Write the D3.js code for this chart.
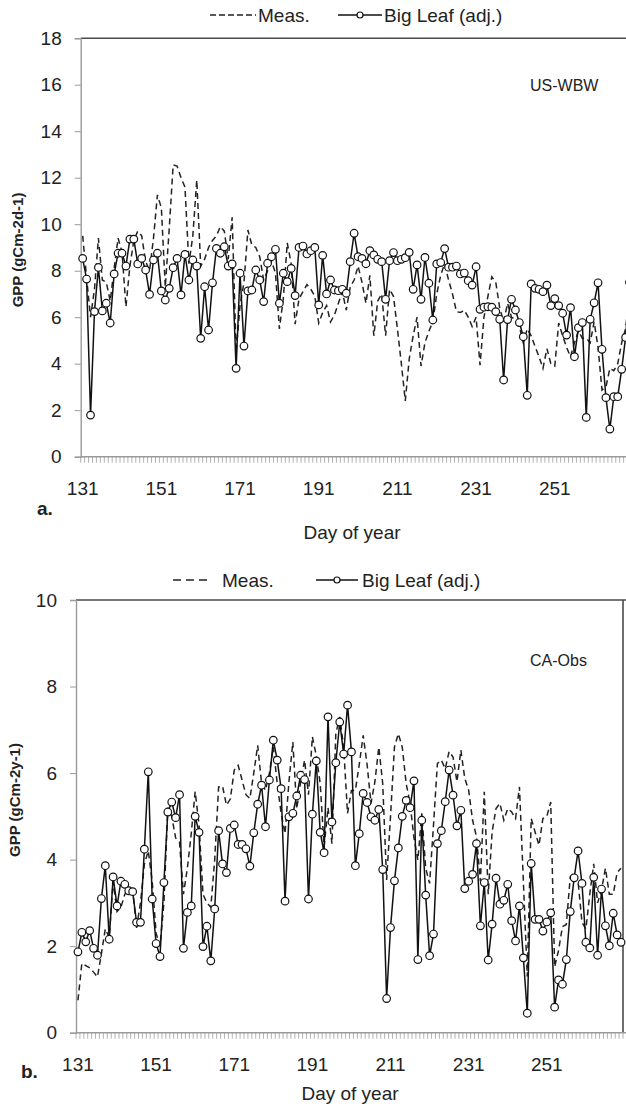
<!DOCTYPE html>
<html><head><meta charset="utf-8">
<script src="https://cdn.jsdelivr.net/npm/d3@7"></script>
<style>body{margin:0;background:#fff;} svg{display:block;font-family:"Liberation Sans",Arial,sans-serif;}</style>
</head><body><svg id="c" width="626" height="1109"></svg>
<script>
const days = d3.range(131, 271);
const xTickLabels = [131,151,171,191,211,231,251];
const wbwTicks = [0,2,4,6,8,10,12,14,16,18];
const obsTicks = [0,2,4,6,8,10];
const seriesNames = ["Meas.", "Big Leaf (adj.)"];

const wbwMeas = [
 9.5,7.7,6.0,7.2,9.4,7.6,7.5,6.7,8.1,9.4,
 8.8,6.45,8.2,9.3,9.7,9.5,8.4,8.0,9.4,11.26,
 10.7,7.3,9.8,12.55,12.5,12.0,11.6,8.3,9.5,11.9,
 8.2,8.5,9.0,9.3,9.5,9.9,9.7,8.5,10.3,4.5,
 6.5,7.5,9.75,9.1,9.0,8.6,7.6,8.0,8.4,7.9,
 5.5,6.8,9.2,8.3,5.7,6.8,7.1,7.4,7.2,6.9,
 5.75,6.2,6.5,5.8,6.1,6.6,7.1,6.3,7.3,7.6,
 8.2,7.5,6.6,7.8,5.2,6.7,7.0,5.2,7.2,6.9,
 5.5,4.0,2.4,4.2,5.2,6.0,3.9,4.9,5.4,5.8,
 7.0,7.8,8.3,7.6,7.0,6.24,6.2,6.3,6.0,5.6,
 6.0,3.94,6.0,6.9,7.74,7.5,6.4,5.8,6.6,6.0,
 5.9,5.6,4.9,5.5,5.2,4.73,4.3,3.8,4.65,4.0,
 3.9,5.75,5.2,4.7,4.3,4.9,5.4,5.1,5.1,4.9,
 5.8,4.7,2.87,3.0,3.8,3.7,4.0,4.9,5.5,7.0];
const wbwBigLeaf = [
 8.53,7.64,1.79,6.24,8.14,6.27,6.6,5.75,7.86,8.75,
 8.75,8.2,9.36,9.36,8.29,8.53,8.03,6.98,8.46,8.75,
 7.13,6.74,7.24,8.13,8.53,6.96,8.7,7.6,8.46,8.2,
 5.09,7.31,5.45,7.48,8.96,8.75,9.03,8.2,8.29,3.8,
 7.89,4.76,7.13,7.17,8.03,7.6,6.67,8.32,8.6,8.92,
 6.6,7.89,7.53,8.1,6.93,9.0,9.06,8.72,8.86,9.0,
 6.53,8.66,7.0,7.6,7.17,7.14,7.2,7.03,8.39,9.61,
 8.6,8.53,8.3,8.86,8.68,8.49,8.39,6.77,8.43,8.78,
 8.43,8.49,8.56,8.79,7.2,8.25,6.77,8.57,7.46,5.88,
 8.29,8.35,8.95,8.15,8.15,8.2,7.86,7.9,7.57,7.38,
 8.17,6.34,6.43,6.45,6.43,6.24,5.91,3.3,5.9,6.77,
 6.31,5.77,5.16,2.64,7.43,7.24,7.2,7.1,7.38,6.5,
 6.8,6.5,6.17,5.23,6.41,4.3,5.55,5.77,1.69,5.91,
 6.62,7.48,4.62,2.54,1.19,2.58,2.58,3.76,5.13,7.5];
const obsMeas = [
 0.75,1.6,1.55,1.5,1.4,1.29,1.83,2.4,2.2,3.5,
 2.8,2.9,3.2,3.3,3.3,2.42,3.0,3.9,4.2,3.5,
 2.3,2.0,3.0,5.2,5.0,4.5,4.4,3.2,3.8,4.6,
 5.57,4.8,3.2,3.0,2.9,4.0,5.68,5.7,5.26,5.4,
 6.07,6.18,5.84,5.5,5.41,6.0,6.64,5.76,5.6,6.0,
 6.6,5.76,5.07,4.6,5.8,6.72,5.17,5.8,6.3,5.5,
 6.84,6.4,5.76,4.3,5.2,4.37,6.91,7.3,6.6,5.07,
 5.6,5.6,6.2,6.87,6.2,5.3,5.8,6.6,5.76,3.53,
 5.0,6.6,6.91,6.6,5.76,5.3,4.5,3.99,5.07,3.8,
 3.45,4.8,6.22,6.3,6.1,6.5,6.37,5.8,6.53,5.88,
 5.6,4.91,4.53,3.5,5.57,3.2,4.64,5.18,5.3,4.91,
 5.18,5.1,4.95,5.68,3.5,1.3,4.95,4.64,4.33,4.95,
 5.0,5.33,1.52,1.9,2.45,2.5,3.6,3.7,3.5,2.55,
 2.4,3.2,3.9,3.0,3.3,3.8,3.2,3.2,3.7,3.8];
const obsBigLeaf = [
 1.87,2.32,2.1,2.36,1.95,1.79,3.1,3.86,2.16,3.6,
 2.93,3.5,3.43,3.28,3.26,2.55,2.55,4.24,6.03,3.09,
 2.06,1.76,3.47,5.1,5.33,4.97,5.5,1.95,2.78,2.93,
 5.0,4.63,1.99,2.46,1.66,2.86,4.67,3.9,3.7,4.72,
 4.8,4.35,4.35,4.25,3.85,4.62,5.28,5.72,4.76,5.84,
 6.76,6.3,5.64,3.04,4.99,5.07,5.47,5.95,5.85,3.09,
 5.05,6.28,4.63,4.16,7.3,4.87,6.24,7.18,6.44,7.57,
 6.49,3.86,4.6,5.53,5.32,4.99,4.91,5.16,3.77,0.79,
 2.43,3.51,4.27,5.0,5.37,5.2,5.82,1.69,4.91,3.18,
 1.78,2.28,4.37,4.67,5.34,6.07,5.49,4.78,5.14,3.33,
 3.5,3.66,4.37,2.47,3.47,1.68,2.51,3.57,2.97,3.06,
 3.43,2.59,2.12,2.93,1.73,0.45,3.91,2.62,2.62,2.35,
 2.56,2.77,0.59,1.22,1.12,1.69,2.8,3.58,4.2,3.45,
 2.09,1.96,3.59,1.79,3.32,2.47,2.01,2.76,2.26,2.09];

const svg = d3.select("#c");
const FS = 19;

function panel(o) {
  const g = svg.append("g");
  const x = d3.scaleBand().domain(days).range([o.left, o.right]).paddingInner(0).paddingOuter(0);
  const cx = d => x(d) + x.bandwidth() / 2;
  const y = d3.scaleLinear().domain([0, o.ymax]).range([o.bottom, o.top]);

  // frame lines
  g.append("line").attr("x1", o.left).attr("x2", o.right + 10).attr("y1", o.top).attr("y2", o.top)
    .attr("stroke", "#4a4a4a").attr("stroke-width", 1.6);
  if (o.rightFrame) {
    g.append("line").attr("x1", o.right).attr("x2", o.right).attr("y1", o.top).attr("y2", o.bottom)
      .attr("stroke", "#4a4a4a").attr("stroke-width", 1.6);
  }
  // y axis
  const ya = d3.axisLeft(y).tickValues(o.yticks).tickSize(6).tickPadding(13).tickFormat(d3.format("d"));
  const yg = g.append("g").attr("transform", `translate(${o.left},0)`).call(ya);
  yg.select(".domain").attr("stroke", "#9a9a9a").attr("stroke-width", 1.4);
  yg.selectAll(".tick line").attr("stroke", "#9a9a9a");
  yg.selectAll(".tick text").attr("font-size", FS).attr("fill", "#222")
    .attr("font-family", "Liberation Sans, Arial, sans-serif");

  // x axis
  g.append("line").attr("x1", o.left).attr("x2", o.right + 10).attr("y1", o.bottom).attr("y2", o.bottom)
    .attr("stroke", "#9a9a9a").attr("stroke-width", 1.4);
  g.selectAll(".xt").data(days.concat([days[days.length - 1] + 1])).enter().append("line")
    .attr("x1", d => d <= days[days.length - 1] ? x(d) : o.right)
    .attr("x2", d => d <= days[days.length - 1] ? x(d) : o.right)
    .attr("y1", o.bottom).attr("y2", o.bottom + 6).attr("stroke", "#9a9a9a").attr("stroke-width", 0.8);
  g.selectAll(".xl").data(xTickLabels).enter().append("text")
    .attr("x", d => cx(d)).attr("y", o.bottom + 38).attr("text-anchor", "middle")
    .attr("font-size", FS).attr("fill", "#222").text(d => d);

  // measured dashed line
  const line = d3.line().x((d, i) => cx(days[i])).y(d => y(d));
  g.append("path").datum(o.meas).attr("d", line).attr("fill", "none")
    .attr("stroke", "#222").attr("stroke-width", 1.5).attr("stroke-dasharray", "6,4");
  // big leaf solid line + circles
  g.append("path").datum(o.big).attr("d", line).attr("fill", "none")
    .attr("stroke", "#111").attr("stroke-width", 1.5);
  g.selectAll(".pt").data(o.big).enter().append("circle")
    .attr("cx", (d, i) => cx(days[i])).attr("cy", d => y(d)).attr("r", 3.8)
    .attr("fill", "#fff").attr("stroke", "#111").attr("stroke-width", 1.2);

  // site label
  g.append("text").attr("x", o.siteX).attr("y", o.siteY).attr("font-size", 16).attr("fill", "#222").text(o.site);

  // y title
  g.append("text").attr("transform", `translate(${o.ytX},${o.ytY}) rotate(-90)`).attr("text-anchor", "middle")
    .attr("font-size", 15).attr("font-weight", "bold").attr("fill", "#222").text(o.ytitle);
  // panel letter
  g.append("text").attr("x", o.letX).attr("y", o.letY).attr("font-size", FS).attr("font-weight", "bold")
    .attr("fill", "#222").text(o.letter);
  // x title
  g.append("text").attr("x", o.xtX).attr("y", o.xtY).attr("text-anchor", "middle").attr("font-size", FS)
    .attr("fill", "#222").text("Day of year");

  // legend
  const L = o.legend;
  g.append("line").attr("x1", L.dashX1).attr("x2", L.dashX2).attr("y1", L.y).attr("y2", L.y)
    .attr("stroke", "#222").attr("stroke-width", 1.4).attr("stroke-dasharray", L.dash);
  g.append("text").attr("x", L.measX).attr("y", L.y + 7).attr("font-size", FS).attr("fill", "#222").text(seriesNames[0]);
  g.append("line").attr("x1", L.solX1).attr("x2", L.solX2).attr("y1", L.y).attr("y2", L.y)
    .attr("stroke", "#111").attr("stroke-width", 1.4);
  g.append("circle").attr("cx", (L.solX1 + L.solX2) / 2).attr("cy", L.y).attr("r", 3)
    .attr("fill", "#fff").attr("stroke", "#111").attr("stroke-width", 1.2);
  g.append("text").attr("x", L.bigX).attr("y", L.y + 7).attr("font-size", FS).attr("fill", "#222").text(seriesNames[1]);
}

panel({left: 80.7, right: 631.5, top: 38.2, bottom: 456.7, ymax: 18, yticks: wbwTicks,
  meas: wbwMeas, big: wbwBigLeaf, rightFrame: false,
  site: "US-WBW", siteX: 530, siteY: 91,
  ytitle: "GPP (gCm-2d-1)", ytX: 23, ytY: 250,
  letter: "a.", letX: 37, letY: 515, xtX: 352, xtY: 539,
  legend: {y: 15, dashX1: 210, dashX2: 256, dash: "6,3", measX: 258, solX1: 338, solX2: 382, bigX: 384}});

panel({left: 76, right: 623, top: 600, bottom: 1032.7, ymax: 10, yticks: obsTicks,
  meas: obsMeas, big: obsBigLeaf, rightFrame: true,
  site: "CA-Obs", siteX: 530, siteY: 666,
  ytitle: "GPP (gCm-2y-1)", ytX: 20, ytY: 800,
  letter: "b.", letX: 21, letY: 1078, xtX: 350, xtY: 1100,
  legend: {y: 580, dashX1: 173, dashX2: 211, dash: "8,5", measX: 222, solX1: 316, solX2: 358, bigX: 362}});
</script></body></html>
